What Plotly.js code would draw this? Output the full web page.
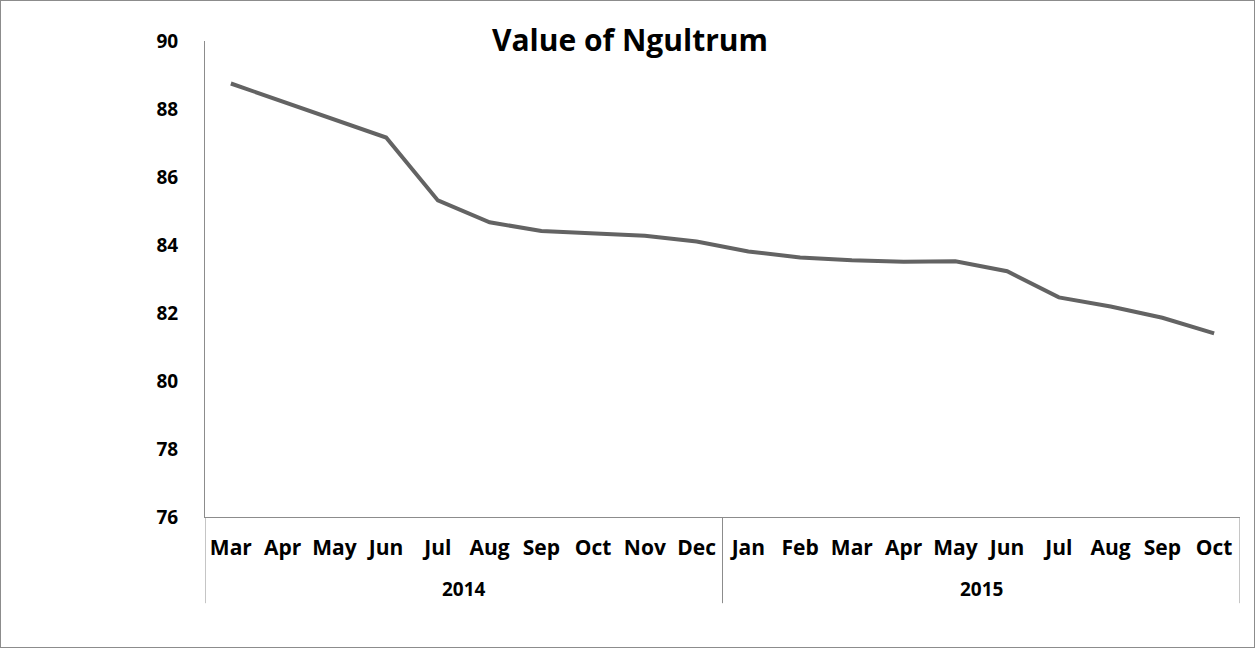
<!DOCTYPE html>
<html>
<head>
<meta charset="utf-8">
<script src="https://cdn.plot.ly/plotly-3.0.1.min.js"></script>
<style>
html,body{margin:0;padding:0;background:#fff;}
#chart{width:1253px;height:646px;border:1px solid #8c8c8c;}
</style>
</head>
<body>
<div id="chart"></div>
<script>
const years = ["2014","2014","2014","2014","2014","2014","2014","2014","2014","2014",
               "2015","2015","2015","2015","2015","2015","2015","2015","2015","2015"];
const months = ["Mar","Apr","May","Jun","Jul","Aug","Sep","Oct","Nov","Dec",
                "Jan","Feb","Mar","Apr","May","Jun","Jul","Aug","Sep","Oct"];
const values = [88.75, 88.22, 87.69, 87.16, 85.31, 84.67, 84.41, 84.33, 84.27, 84.10,
                83.81, 83.63, 83.55, 83.51, 83.52, 83.23, 82.46, 82.19, 81.86, 81.40];

// unique category ids for each month
const cats = months.map((m, i) => years[i] + '-' + m);

// group boundaries and centres derived from the years array
const groups = [];
years.forEach((y, i) => {
  if (!groups.length || groups[groups.length - 1].name !== y) groups.push({name: y, start: i, end: i});
  else groups[groups.length - 1].end = i;
});

const lineGray = '#8c8c8c';
const divBottom = -(602 - 516) / 475;
const yearY = -(588 - 516) / 475;

const shapes = [];
groups.forEach((g, k) => {
  if (k === 0) shapes.push({type: 'line', xref: 'x', yref: 'paper', x0: g.start - 0.5, x1: g.start - 0.5, y0: 0, y1: divBottom, line: {color: lineGray, width: 1}});
  shapes.push({type: 'line', xref: 'x', yref: 'paper', x0: g.end + 0.5, x1: g.end + 0.5, y0: 0, y1: divBottom, line: {color: lineGray, width: 1}});
});

const annotations = groups.map(g => ({
  xref: 'x', yref: 'paper',
  x: (g.start + g.end) / 2, y: yearY,
  text: g.name, showarrow: false,
  xanchor: 'center', yanchor: 'middle',
  font: {family: 'Open Sans', size: 19, color: '#000', weight: 'bold'}
}));

const trace = {
  type: 'scatter',
  mode: 'lines',
  x: cats,
  y: values,
  line: {color: '#636363', width: 4},
  hoverinfo: 'y'
};

const layout = {
  width: 1253,
  height: 646,
  margin: {l: 204, r: 14, t: 40, b: 130},
  paper_bgcolor: '#ffffff',
  plot_bgcolor: '#ffffff',
  showlegend: false,
  title: {
    text: 'Value of Ngultrum',
    font: {family: 'Open Sans', size: 30, color: '#000', weight: 'bold'},
    x: 629/1253, xanchor: 'center', xref: 'container',
    y: 1 - 39/646, yanchor: 'middle', yref: 'container'
  },
  xaxis: {
    type: 'category',
    categoryorder: 'array',
    categoryarray: cats,
    tickvals: cats,
    ticktext: months,
    showline: true,
    linecolor: lineGray,
    linewidth: 1,
    showgrid: false,
    zeroline: false,
    ticks: '',
    ticklabelstandoff: 12,
    tickangle: 0,
    tickfont: {family: 'Open Sans', size: 21, color: '#000', weight: 'bold'},
    range: [-0.5, cats.length - 0.5]
  },
  yaxis: {
    range: [76, 90],
    dtick: 2,
    tick0: 76,
    showline: true,
    linecolor: lineGray,
    linewidth: 1,
    showgrid: false,
    zeroline: false,
    ticks: '',
    ticklabelstandoff: 22,
    tickfont: {family: 'Open Sans', size: 19, color: '#000', weight: 'bold'}
  },
  shapes: shapes,
  annotations: annotations
};

Plotly.newPlot('chart', [trace], layout, {displayModeBar: false, staticPlot: true});
</script>
</body>
</html>
